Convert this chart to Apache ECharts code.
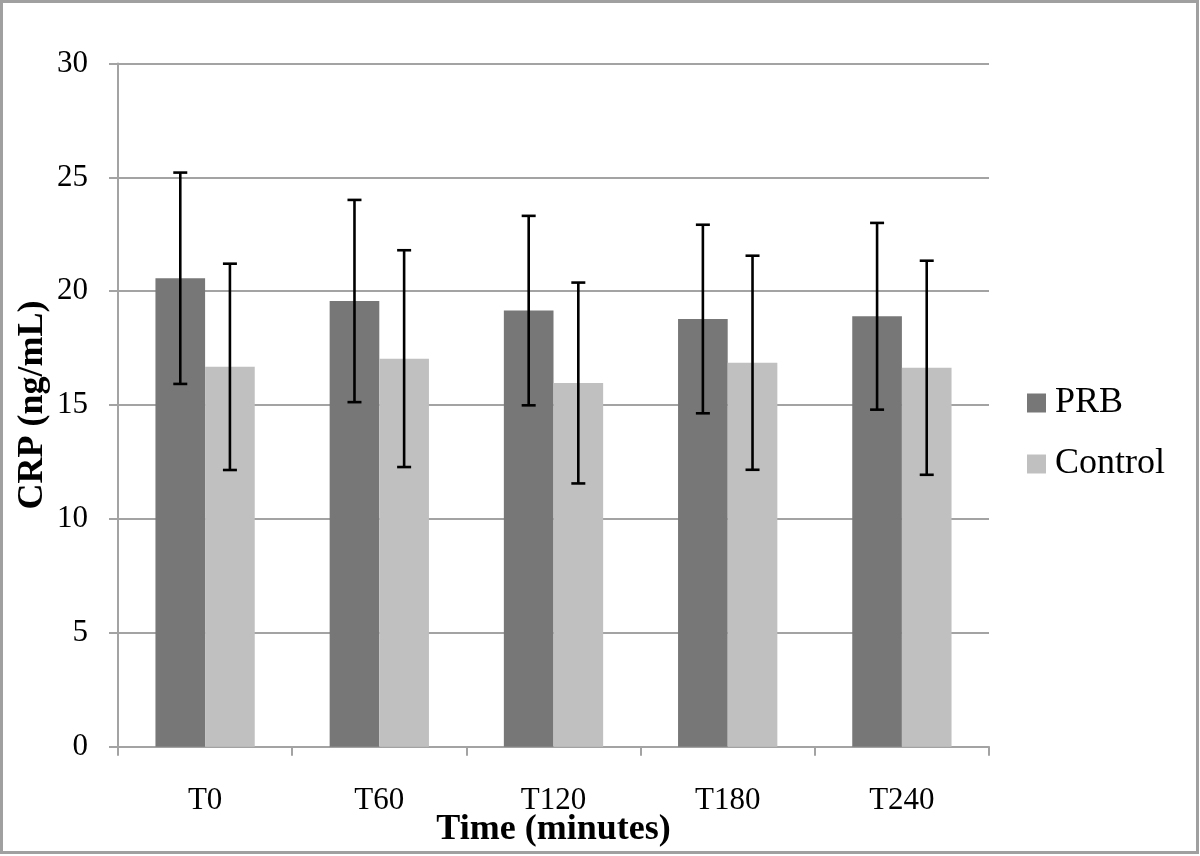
<!DOCTYPE html>
<html>
<head>
<meta charset="utf-8">
<script src="https://cdn.jsdelivr.net/npm/echarts@6/dist/echarts.min.js"></script>
<style>
html,body{margin:0;padding:0;background:#fff;}
#chart{width:1200px;height:856px;}
</style>
</head>
<body>
<div id="chart"></div>
<script>
var categories = ['T0', 'T60', 'T120', 'T180', 'T240'];
var prbMean = [20.57, 19.57, 19.15, 18.78, 18.90];
var prbErr = [4.64, 4.44, 4.16, 4.14, 4.10];
var controlMean = [16.68, 17.04, 15.97, 16.86, 16.64];
var controlErr = [4.53, 4.76, 4.41, 4.70, 4.70];
var seriesNames = ['PRB', 'Control'];
var seriesColors = ['#777777', '#c0c0c0'];
var yMin = 0, yMax = 30, yInterval = 5;

var BAR_FRAC = 0.285;
var fontFam = '"Liberation Serif", "Times New Roman", serif';
var gridColor = '#a3a3a3';

function errorSeries(means, errs, side) {
  var data = means.map(function (m, i) { return [i, m - errs[i], m + errs[i]]; });
  return {
    type: 'custom',
    name: 'err' + side,
    z: 10,
    silent: true,
    renderItem: function (params, api) {
      var idx = api.value(0);
      var band = api.size([1, 0])[0];
      var bw = band * BAR_FRAC;
      var lo = api.coord([idx, api.value(1)]);
      var hi = api.coord([idx, api.value(2)]);
      var x = lo[0] + side * bw / 2;
      var cap = 7;
      var style = { stroke: '#000', lineWidth: 2.6, fill: null };
      return {
        type: 'group',
        children: [
          { type: 'line', shape: { x1: x, y1: lo[1], x2: x, y2: hi[1] }, style: style },
          { type: 'line', shape: { x1: x - cap, y1: lo[1], x2: x + cap, y2: lo[1] }, style: style },
          { type: 'line', shape: { x1: x - cap, y1: hi[1], x2: x + cap, y2: hi[1] }, style: style }
        ]
      };
    },
    encode: { x: 0, y: [1, 2] },
    data: data
  };
}

var chart = echarts.init(document.getElementById('chart'), null, { renderer: 'canvas' });
chart.setOption({
  animation: false,
  backgroundColor: '#fff',
  textStyle: { fontFamily: fontFam },
  graphic: [{
    type: 'rect', z: 100,
    shape: { x: 1.5, y: 1.5, width: 1196, height: 851 },
    style: { fill: null, stroke: '#a0a0a0', lineWidth: 3 }
  }],
  grid: { left: 118, right: 211, top: 63.5, bottom: 109.3, containLabel: false, outerBoundsMode: 'none' },
  legend: {
    data: seriesNames,
    orient: 'vertical',
    left: 1022,
    top: 380,
    itemWidth: 19,
    itemHeight: 19,
    itemGap: 25,
    icon: 'rect',
    textStyle: { fontFamily: fontFam, fontSize: 36, color: '#000', lineHeight: 36, padding: [0, 0, 0, 4] }
  },
  xAxis: {
    type: 'category',
    data: categories,
    name: 'Time (minutes)',
    nameLocation: 'middle',
    nameGap: 65,
    nameMoveOverlap: false,
    nameTextStyle: { fontFamily: fontFam, fontSize: 36, fontWeight: 'bold', color: '#000' },
    axisLine: { lineStyle: { color: gridColor, width: 2 } },
    axisTick: { show: true, length: 9, lineStyle: { color: gridColor, width: 2 } },
    axisLabel: { fontFamily: fontFam, fontSize: 31, color: '#000', margin: 39 }
  },
  yAxis: {
    type: 'value',
    min: yMin, max: yMax, interval: yInterval,
    name: 'CRP (ng/mL)',
    nameLocation: 'middle',
    nameGap: 67,
    nameMoveOverlap: false,
    nameTextStyle: { fontFamily: fontFam, fontSize: 36, fontWeight: 'bold', color: '#000' },
    axisLine: { show: true, lineStyle: { color: gridColor, width: 2 } },
    axisTick: { show: true, length: 9, lineStyle: { color: gridColor, width: 2 } },
    axisLabel: { fontFamily: fontFam, fontSize: 31, color: '#000', margin: 30 },
    splitLine: { lineStyle: { color: gridColor, width: 2 } }
  },
  series: [
    { name: seriesNames[0], type: 'bar', data: prbMean, barWidth: (BAR_FRAC * 100) + '%', barGap: '0%', itemStyle: { color: seriesColors[0] } },
    { name: seriesNames[1], type: 'bar', data: controlMean, barWidth: (BAR_FRAC * 100) + '%', barGap: '0%', itemStyle: { color: seriesColors[1] } },
    errorSeries(prbMean, prbErr, -1),
    errorSeries(controlMean, controlErr, 1)
  ]
});
</script>
</body>
</html>
